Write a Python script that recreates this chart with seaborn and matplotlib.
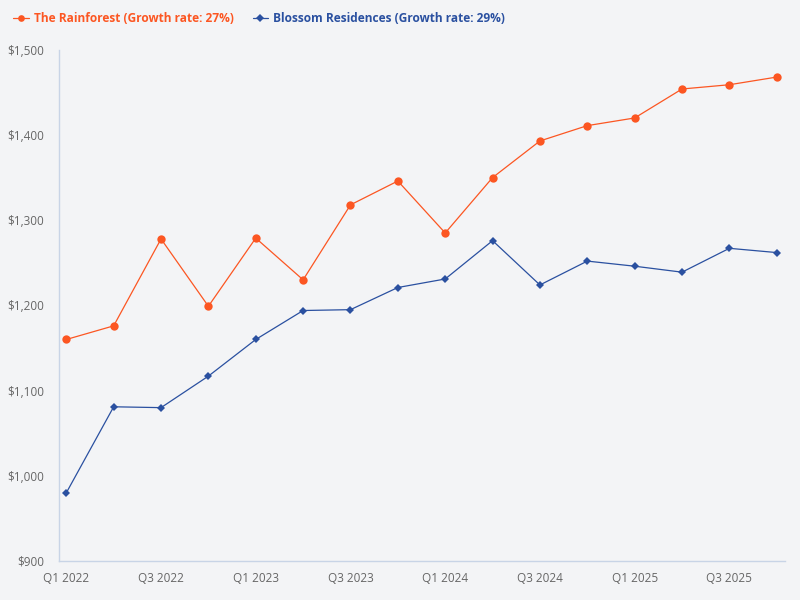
import matplotlib
matplotlib.use("Agg")
import matplotlib.pyplot as plt
import seaborn as sns
import pandas as pd
from matplotlib.ticker import FuncFormatter

quarters = ["Q1 2022", "Q2 2022", "Q3 2022", "Q4 2022",
            "Q1 2023", "Q2 2023", "Q3 2023", "Q4 2023",
            "Q1 2024", "Q2 2024", "Q3 2024", "Q4 2024",
            "Q1 2025", "Q2 2025", "Q3 2025", "Q4 2025"]
rainforest = [1160, 1176, 1278, 1199, 1279, 1230, 1318, 1346,
              1285, 1350, 1393, 1411, 1420, 1454, 1459, 1468]
blossom = [980, 1081, 1080, 1117, 1160, 1194, 1195, 1221,
           1231, 1276, 1224, 1252, 1246, 1239, 1267, 1262]
series_names = ["The Rainforest (Growth rate: 27%)",
                "Blossom Residences (Growth rate: 29%)"]
y_ticks = [900, 1000, 1100, 1200, 1300, 1400, 1500]

bg = "#f3f4f6"
orange = "#fc5622"
blue = "#2a50a0"

sns.set_theme(style="white")
plt.rcParams["font.family"] = ["Open Sans", "DejaVu Sans"]

fig = plt.figure(figsize=(8, 6), dpi=100, facecolor=bg)
ax = fig.add_axes([0.074, 0.065, 0.907, 0.852], facecolor=bg)

df = pd.DataFrame({
    "idx": list(range(len(quarters))) * 2,
    "value": rainforest + blossom,
    "series": [series_names[0]] * len(quarters) + [series_names[1]] * len(quarters),
})

sns.lineplot(data=df[df.series == series_names[0]], x="idx", y="value",
             color=orange, marker="o", markersize=6, markeredgewidth=0,
             linewidth=0.9, ax=ax, label=series_names[0])
sns.lineplot(data=df[df.series == series_names[1]], x="idx", y="value",
             color=blue, marker="D", markersize=4.5, markeredgewidth=0,
             linewidth=0.9, ax=ax, label=series_names[1])

ax.set_xlim(-0.15, 15.17)
ax.set_ylim(900, 1500)
ax.set_yticks(y_ticks)
ax.yaxis.set_major_formatter(FuncFormatter(lambda v, p: f"${v:,.0f}"))
ax.set_xticks(range(0, len(quarters), 2))
ax.set_xticklabels(quarters[::2])
ax.tick_params(axis="both", length=0, labelsize=8.5, colors="#666666")
ax.tick_params(axis="y", pad=11)
ax.tick_params(axis="x", pad=8)
ax.set_xlabel("")
ax.set_ylabel("")
for s in ["top", "right"]:
    ax.spines[s].set_visible(False)
for s in ["left", "bottom"]:
    ax.spines[s].set_color("#c8d4e6")
    ax.spines[s].set_linewidth(1)

leg = ax.legend(loc="upper left", bbox_to_anchor=(-0.078, 1.094), ncol=2,
                frameon=False, labelcolor="linecolor", handlelength=1.3,
                handletextpad=0.4, columnspacing=1.6, markerscale=0.8,
                prop={"weight": "bold", "size": 8.6})

fig.savefig("out.png", dpi=100, facecolor=bg)
